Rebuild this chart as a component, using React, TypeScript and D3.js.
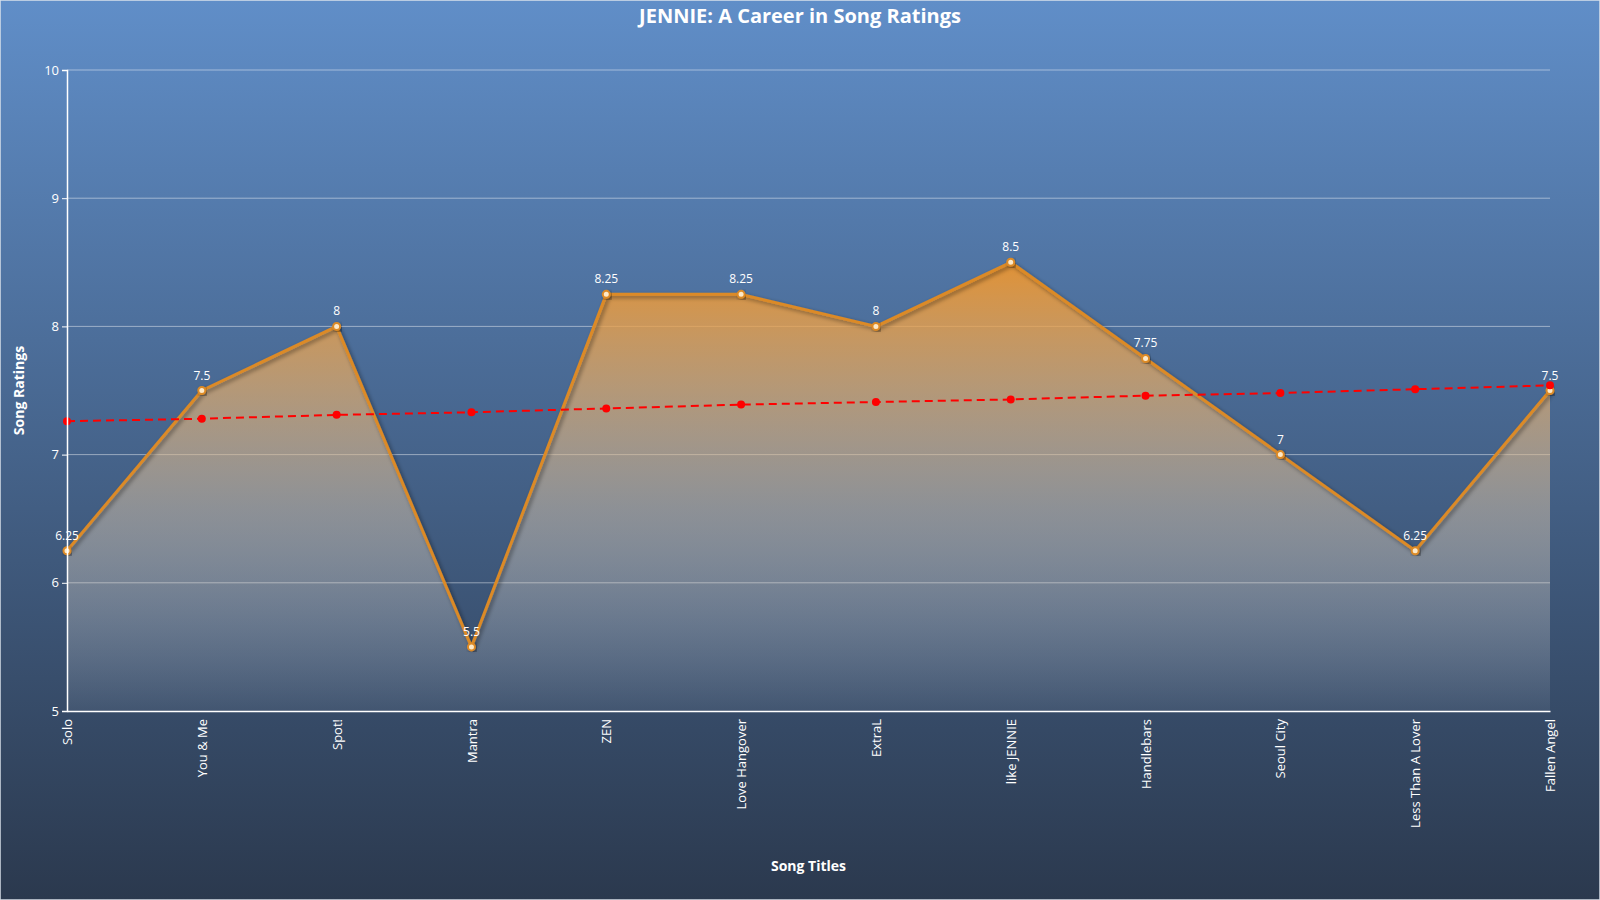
import { useEffect, useRef } from "react";
import * as d3 from "d3";

const songs = [
  "Solo",
  "You & Me",
  "Spot!",
  "Mantra",
  "ZEN",
  "Love Hangover",
  "ExtraL",
  "like JENNIE",
  "Handlebars",
  "Seoul City",
  "Less Than A Lover",
  "Fallen Angel",
];
const ratings = [6.25, 7.5, 8, 5.5, 8.25, 8.25, 8, 8.5, 7.75, 7, 6.25, 7.5];
// trend line values
const trend = [7.26, 7.28, 7.31, 7.33, 7.36, 7.39, 7.41, 7.43, 7.46, 7.48, 7.51, 7.54];
const yTicks = [5, 6, 7, 8, 9, 10];

const FONT = "'Open Sans', 'Noto Sans', sans-serif";
const ORANGE = "#dc8a26";
const WHITE = "#ffffff";

export default function App() {
  const ref = useRef<HTMLDivElement>(null);

  useEffect(() => {
    if (!ref.current) return;
    d3.select(ref.current).selectAll("*").remove();

    const W = 1600;
    const H = 900;
    const margin = { top: 70, right: 50, bottom: 189, left: 67 };
    const width = W - margin.left - margin.right;
    const height = H - margin.top - margin.bottom;

    const svg = d3
      .select(ref.current)
      .append("svg")
      .attr("width", W)
      .attr("height", H)
      .style("display", "block")
      .style("font-family", FONT);

    const defs = svg.append("defs");

    const bg = defs
      .append("linearGradient")
      .attr("id", "bg-grad")
      .attr("x1", 0)
      .attr("y1", 0)
      .attr("x2", 0)
      .attr("y2", 1);
    bg.append("stop").attr("offset", "0%").attr("stop-color", "#608ec8");
    bg.append("stop").attr("offset", "100%").attr("stop-color", "#2b394e");

    const x = d3.scalePoint<string>().domain(songs).range([0, width]).padding(0);
    const y = d3.scaleLinear().domain([5, 10]).range([height, 0]);

    const areaGrad = defs
      .append("linearGradient")
      .attr("id", "area-grad")
      .attr("gradientUnits", "userSpaceOnUse")
      .attr("x1", 0)
      .attr("y1", y(8.5))
      .attr("x2", 0)
      .attr("y2", y(5));
    areaGrad.append("stop").attr("offset", "0%").attr("stop-color", "#f0952a").attr("stop-opacity", 0.9);
    areaGrad.append("stop").attr("offset", "55%").attr("stop-color", "#d8c3a8").attr("stop-opacity", 0.5);
    areaGrad.append("stop").attr("offset", "100%").attr("stop-color", "#ffffff").attr("stop-opacity", 0.06);

    const shadow = defs
      .append("filter")
      .attr("id", "shadow")
      .attr("x", "-20%")
      .attr("y", "-20%")
      .attr("width", "140%")
      .attr("height", "140%");
    shadow
      .append("feDropShadow")
      .attr("dx", 2)
      .attr("dy", 2)
      .attr("stdDeviation", 2)
      .attr("flood-color", "#000")
      .attr("flood-opacity", 0.45);

    // background
    svg
      .append("rect")
      .attr("x", 0.5)
      .attr("y", 0.5)
      .attr("width", W - 1)
      .attr("height", H - 1)
      .attr("fill", "url(#bg-grad)")
      .attr("stroke", "rgba(200,210,225,0.45)")
      .attr("stroke-width", 1);

    const g = svg
      .append("g")
      .attr("transform", `translate(${margin.left},${margin.top})`);

    // gridlines
    g.selectAll("line.grid")
      .data(yTicks.filter((d) => d !== 5))
      .join("line")
      .attr("class", "grid")
      .attr("x1", 0)
      .attr("x2", width)
      .attr("y1", (d) => y(d))
      .attr("y2", (d) => y(d))
      .attr("stroke", WHITE)
      .attr("stroke-opacity", 0.45)
      .attr("stroke-width", 1);

    // area
    const area = d3
      .area<number>()
      .x((_, i) => x(songs[i])!)
      .y0(height)
      .y1((d) => y(d));

    g.append("path").datum(ratings).attr("fill", "url(#area-grad)").attr("d", area);

    // rating line
    const line = d3
      .line<number>()
      .x((_, i) => x(songs[i])!)
      .y((d) => y(d));

    g.append("path")
      .datum(ratings)
      .attr("fill", "none")
      .attr("stroke", ORANGE)
      .attr("stroke-width", 3)
      .attr("stroke-linejoin", "round")
      .attr("filter", "url(#shadow)")
      .attr("d", line);

    g.selectAll("circle.pt")
      .data(ratings)
      .join("circle")
      .attr("class", "pt")
      .attr("cx", (_, i) => x(songs[i])!)
      .attr("cy", (d) => y(d))
      .attr("r", 3.5)
      .attr("fill", "#fde9c8")
      .attr("stroke", ORANGE)
      .attr("stroke-width", 2)
      .attr("filter", "url(#shadow)");

    // trend line
    g.append("path")
      .datum(trend)
      .attr("fill", "none")
      .attr("stroke", "#ff0000")
      .attr("stroke-width", 2)
      .attr("stroke-dasharray", "8 5")
      .attr("d", line);

    g.selectAll("circle.trend")
      .data(trend)
      .join("circle")
      .attr("class", "trend")
      .attr("cx", (_, i) => x(songs[i])!)
      .attr("cy", (d) => y(d))
      .attr("r", 4)
      .attr("fill", "#ff0000");

    // data labels
    g.selectAll("text.label")
      .data(ratings)
      .join("text")
      .attr("class", "label")
      .attr("x", (_, i) => x(songs[i])!)
      .attr("y", (d) => y(d) - 11)
      .attr("text-anchor", "middle")
      .attr("font-size", "12px")
      .attr("fill", WHITE)
      .text((d) => d);

    // y axis
    const yAxis = g
      .append("g")
      .call(
        d3
          .axisLeft(y)
          .tickValues(yTicks)
          .tickFormat(d3.format("d"))
          .tickSize(5)
          .tickPadding(3),
      );
    yAxis.select(".domain").attr("stroke", WHITE).attr("stroke-width", 1.5);
    yAxis.selectAll(".tick line").attr("stroke", WHITE);
    yAxis
      .selectAll("text")
      .attr("font-size", "13px")
      .attr("font-family", FONT)
      .attr("fill", WHITE);

    // x axis
    const xAxis = g
      .append("g")
      .attr("transform", `translate(0,${height})`)
      .call(d3.axisBottom(x).tickSize(0).tickSizeOuter(0));
    xAxis.select(".domain").attr("stroke", WHITE).attr("stroke-width", 1.5);
    xAxis
      .selectAll("text")
      .attr("transform", "rotate(-90)")
      .attr("x", -8)
      .attr("y", 0)
      .attr("dy", "0.35em")
      .attr("text-anchor", "end")
      .attr("font-size", "13px")
      .attr("font-family", FONT)
      .attr("fill", WHITE);

    // titles
    svg
      .append("text")
      .attr("x", W / 2)
      .attr("y", 23)
      .attr("text-anchor", "middle")
      .attr("font-size", "20px")
      .attr("font-weight", "700")
      .attr("fill", WHITE)
      .text("JENNIE: A Career in Song Ratings");

    svg
      .append("text")
      .attr("x", margin.left + width / 2)
      .attr("y", 871)
      .attr("text-anchor", "middle")
      .attr("font-size", "14px")
      .attr("font-weight", "700")
      .attr("fill", WHITE)
      .text("Song Titles");

    svg
      .append("text")
      .attr("transform", "rotate(-90)")
      .attr("x", -(margin.top + height / 2))
      .attr("y", 24)
      .attr("text-anchor", "middle")
      .attr("font-size", "14px")
      .attr("font-weight", "700")
      .attr("fill", WHITE)
      .text("Song Ratings");
  }, []);

  return <div ref={ref} style={{ position: "fixed", left: 0, top: 0 }} />;
}
